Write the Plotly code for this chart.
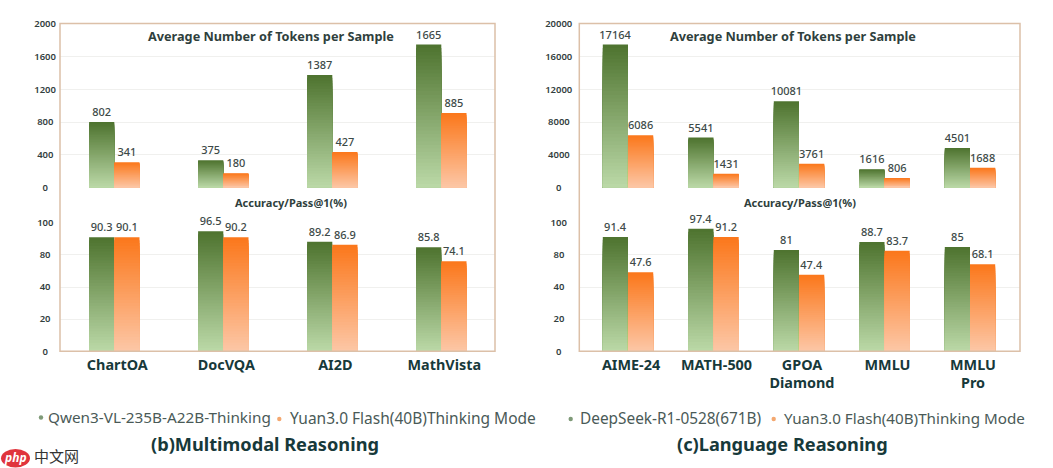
import plotly.graph_objects as go

W, H = 1053, 468

# left group (b)
b_cats = ["ChartOA", "DocVQA", "AI2D", "MathVista"]
b_tok_green = [801, 334, 1374, 1744]
b_tok_orange = [310, 175, 435, 911]
b_tok_green_lbl = ["802", "375", "1387", "1665"]
b_tok_orange_lbl = ["341", "180", "427", "885"]
b_acc_green = [88.6, 93.3, 85.2, 80.9]
b_acc_orange = [88.6, 88.6, 82.9, 70.0]
b_acc_green_lbl = ["90.3", "96.5", "89.2", "85.8"]
b_acc_orange_lbl = ["90.1", "90.2", "86.9", "74.1"]

# right group (c)
c_cats = ["AIME-24", "MATH-500", "GPOA<br>Diamond", "MMLU", "MMLU<br>Pro"]
c_tok_green = [17440, 6100, 10537, 2244, 4841]
c_tok_orange = [6390, 1707, 2927, 1183, 2439]
c_tok_green_lbl = ["17164", "5541", "10081", "1616", "4501"]
c_tok_orange_lbl = ["6086", "1431", "3761", "806", "1688"]
c_acc_green = [88.9, 95.3, 78.8, 85.0, 81.1]
c_acc_orange = [61.4, 88.9, 59.6, 78.2, 67.7]
c_acc_green_lbl = ["91.4", "97.4", "81", "88.7", "85"]
c_acc_orange_lbl = ["47.6", "91.2", "47.4", "83.7", "68.1"]

# tick labels (the accuracy axis in the source skips 60)
b_tok_ticks = [0, 400, 800, 1200, 1600, 2000]
c_tok_ticks = [0, 4000, 8000, 12000, 16000, 20000]
acc_tickvals = [0, 25, 50, 75, 100]
acc_ticktext = ["0", "20", "40", "80", "100"]

GREEN = ((79, 116, 48), (186, 216, 166))
ORANGE = ((251, 120, 28), (252, 198, 165))
FRAME = "#dcc0a8"
GRID = "#f0f0ee"
TEXT = "#2f3f3d"
TITLE = "#17393a"
FONT = "Noto Sans"
LEVELS = 40


def paper_x(px):
    return px / W


def paper_y(px):
    return 1 - px / H


def centered(labels, digits):
    # plotly right-aligns y tick labels, the source has them centred
    out = []
    for s in labels:
        diff = digits - len(s)
        out.append(s + "\u2007" * (diff // 2) + ("\u2009\u200a" if diff % 2 else ""))
    return out


def add_bars(fig, cats, heights, labels, ramp, offset, width, xa, ya):
    # gradient fill: shorter lighter bars painted over taller darker ones
    for i in range(LEVELS):
        t = i / (LEVELS - 1)
        rgb = [round(a + (b - a) * t) for a, b in zip(ramp[0], ramp[1])]
        fig.add_trace(go.Bar(
            x=cats,
            y=[v * (1 - i / LEVELS) for v in heights],
            width=width,
            offset=offset,
            marker=dict(color="rgb(%d,%d,%d)" % tuple(rgb), line=dict(width=0)),
            text=labels if i == 0 else None,
            textposition="outside" if i == 0 else "none",
            textangle=0,
            constraintext="none",
            cliponaxis=False,
            textfont=dict(family=FONT, size=11, color="#3d4a48", weight=500),
            xaxis=xa,
            yaxis=ya,
            showlegend=False,
            hoverinfo="skip",
        ))


fig = go.Figure()

panels = [
    dict(cats=b_cats, left=60, right=495, first=114.3, step=109.0, digits=4, standoff=3,
         ticks=b_tok_ticks, tok=(b_tok_green, b_tok_orange, b_tok_green_lbl, b_tok_orange_lbl),
         acc=(b_acc_green, b_acc_orange, b_acc_green_lbl, b_acc_orange_lbl), ax=("", "2")),
    dict(cats=c_cats, left=579.3, right=1020, first=628, step=85.5, digits=5, standoff=6,
         ticks=c_tok_ticks, tok=(c_tok_green, c_tok_orange, c_tok_green_lbl, c_tok_orange_lbl),
         acc=(c_acc_green, c_acc_orange, c_acc_green_lbl, c_acc_orange_lbl), ax=("3", "4")),
]

layout_axes = {}
shapes = []
for p in panels:
    bw = 25.2 / p["step"]
    xrange = [-(p["first"] - p["left"]) / p["step"], (p["right"] - p["first"]) / p["step"]]
    dom = [paper_x(p["left"]), paper_x(p["right"])]
    top, bot = p["ax"]
    for suffix, series, yrange, tickvals, ticktext, ydom, show_x in [
        (top, p["tok"], [0, p["ticks"][-1]], p["ticks"], [str(t) for t in p["ticks"]],
         [paper_y(187.7), paper_y(23.5)], False),
        (bot, p["acc"], [0, 100], acc_tickvals, acc_ticktext,
         [paper_y(351.3), paper_y(222.7)], True),
    ]:
        xa, ya = "x" + suffix, "y" + suffix
        add_bars(fig, p["cats"], series[0], series[2], GREEN, -bw, bw, xa, ya)
        add_bars(fig, p["cats"], series[1], series[3], ORANGE, 0, bw, xa, ya)
        layout_axes["xaxis" + suffix] = dict(
            domain=dom, anchor=ya, type="category", categoryorder="array", categoryarray=p["cats"],
            range=xrange, showgrid=False, zeroline=False, showline=False, automargin=False,
            showticklabels=show_x, ticks="", ticklabelshift=3, ticklabelstandoff=3,
            tickfont=dict(family=FONT, size=14.4, color=TITLE, weight=700),
        )
        layout_axes["yaxis" + suffix] = dict(
            domain=ydom, anchor=xa, range=yrange, tickmode="array", tickvals=tickvals,
            ticktext=centered(ticktext, p["digits"]), showgrid=True, gridcolor=GRID, gridwidth=1,
            zeroline=False, showline=False, ticks="", ticklabelstandoff=p["standoff"], automargin=False,
            tickfont=dict(family=FONT, size=9.5, color="#33403e", weight=600),
        )
    shapes.append(dict(type="rect", xref="paper", yref="paper",
                       x0=paper_x(p["left"]), x1=paper_x(p["right"]),
                       y0=paper_y(351.3), y1=paper_y(23.5),
                       line=dict(color=FRAME, width=1.5), layer="above"))


def note(text, x, y, size, color=TEXT, weight=400, anchor="center", family=FONT, italic=False):
    return dict(text=text, x=paper_x(x), y=paper_y(y), xref="paper", yref="paper",
                showarrow=False, xanchor=anchor, yanchor="middle",
                font=dict(family=family, size=size, color=color, weight=weight,
                          style="italic" if italic else "normal"))


annotations = [
    note("Average Number of Tokens per Sample", 271, 35.7, 12.7, weight=700),
    note("Average Number of Tokens per Sample", 792.7, 35.7, 12.7, weight=700),
    note("Accuracy/Pass@1(%)", 291, 202, 11, weight=700),
    note("Accuracy/Pass@1(%)", 800, 202, 11, weight=700),
    note("Qwen3-VL-235B-A22B-Thinking", 45.7, 417, 15.3, color="#4a5a57", anchor="left"),
    note("Yuan3.0 Flash(40B)Thinking Mode", 288, 418, 15.5, color="#4a5a57", anchor="left"),
    note("DeepSeek-R1-0528(671B)", 578, 418, 15.4, color="#4a5a57", anchor="left"),
    note("Yuan3.0 Flash(40B)Thinking Mode", 782.3, 418, 15.2, color="#4a5a57", anchor="left"),
    note("(b)Multimodal Reasoning", 265, 444.3, 18.2, color=TITLE, weight=700),
    note("(c)Language Reasoning", 782.7, 444.3, 18.2, color=TITLE, weight=700),
    note("php", 15.5, 457.5, 12, color="white", weight=700, italic=True),
    note("中文网", 56, 455, 15, color="#333333", family="Noto Sans CJK SC"),
]

# legend dots and watermark badge
for cx, cy, col in [(41, 417.5, "#7f9a78"), (279.3, 419, "#f4a870"),
                    (570.7, 419, "#7f9a78"), (773.7, 419, "#f4a870")]:
    shapes.append(dict(type="circle", xref="paper", yref="paper",
                       x0=paper_x(cx - 2.2), x1=paper_x(cx + 2.2),
                       y0=paper_y(cy + 2.2), y1=paper_y(cy - 2.2),
                       fillcolor=col, line=dict(width=0)))
shapes.append(dict(type="circle", xref="paper", yref="paper",
                   x0=paper_x(1), x1=paper_x(30), y0=paper_y(467.5), y1=paper_y(449),
                   fillcolor="#e0343c", line=dict(width=0), layer="below"))

fig.update_layout(
    width=W,
    height=H,
    margin=dict(l=0, r=0, t=0, b=0),
    barmode="overlay",
    plot_bgcolor="white",
    paper_bgcolor="white",
    shapes=shapes,
    annotations=annotations,
    **layout_axes,
)

fig.write_html("out.html", config=dict(displayModeBar=False),
               post_script="document.body.style.margin='0';")
